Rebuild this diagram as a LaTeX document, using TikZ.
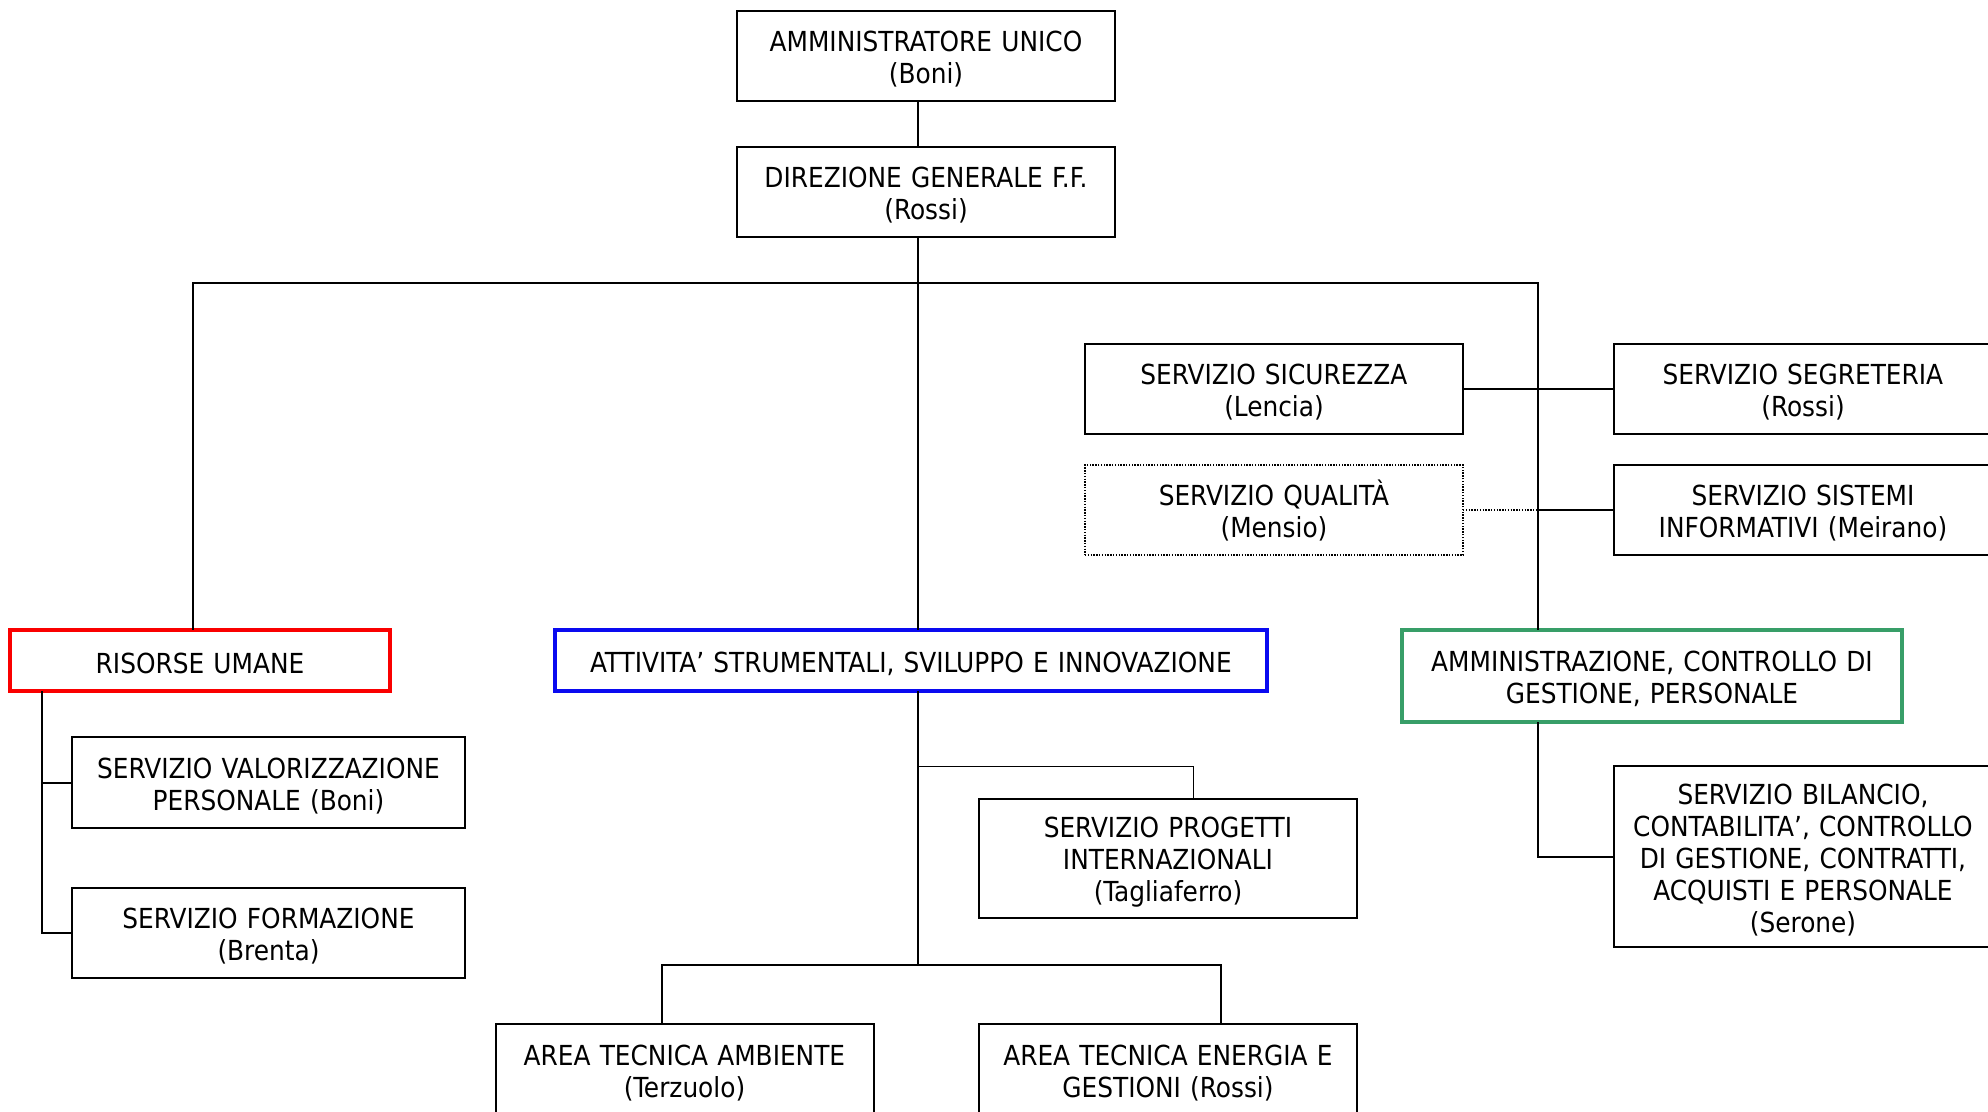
\documentclass[tikz,border=0pt]{standalone}
\usepackage{fontspec}
\setmainfont{DejaVu Sans Condensed}
\definecolor{rured}{RGB}{250,0,0}
\definecolor{atblue}{RGB}{10,10,240}
\definecolor{amgreen}{RGB}{56,158,104}
\begin{document}
\begin{tikzpicture}[x=0.5pt,y=-0.5pt,
   font=\fontsize{13.8}{16}\selectfont,
   box/.style={draw,line width=1pt,align=center,text width=180pt,inner sep=0pt,outer sep=0pt,minimum width=189pt,minimum height=45pt,
     execute at begin node={\rule{0pt}{13.5pt}}},
   areabox/.style={box,line width=2pt},
   link/.style={line width=1pt},
   thinlink/.style={line width=0.5pt},
   dotlink/.style={line width=0.7pt,dash pattern=on 0.7pt off 0.7pt}]
   \useasboundingbox (0,0) rectangle (1988,1112);
   \clip (0,0) rectangle (1988,1112);
   \node[box] (amm) at (926,56) {AMMINISTRATORE UNICO\\(Boni)};
   \node[box] (dir) at (926,192) {DIREZIONE GENERALE F.F.\\(Rossi)};
   \node[box] (sicur) at (1274,389) {SERVIZIO SICUREZZA\\(Lencia)};
   \node[box] (segr) at (1803,389) {SERVIZIO SEGRETERIA\\(Rossi)};
   \node[box,dotlink] (qual) at (1274,510) {SERVIZIO QUALITÀ\\(Mensio)};
   \node[box] (sist) at (1803,510) {SERVIZIO SISTEMI\\INFORMATIVI (Meirano)};
   \node[areabox,draw=rured,minimum width=190pt,minimum height=30.5pt] (rum) at (200,660.5) {RISORSE UMANE};
   \node[areabox,draw=atblue,text width=345pt,minimum width=356pt,minimum height=30.5pt] (att) at (911,660.5) {ATTIVITA’ STRUMENTALI, SVILUPPO E INNOVAZIONE};
   \node[areabox,draw=amgreen,text width=240pt,minimum width=250pt,minimum height=46pt] (amc) at (1652,676) {AMMINISTRAZIONE, CONTROLLO DI\\GESTIONE, PERSONALE};
   \node[box,text width=190pt,minimum width=196.5pt,minimum height=45.5pt] (valor) at (268.5,782.5) {SERVIZIO VALORIZZAZIONE\\PERSONALE (Boni)};
   \node[box,minimum width=196.5pt] (form) at (268.5,933) {SERVIZIO FORMAZIONE\\(Brenta)};
   \node[box,minimum height=59.5pt] (prog) at (1168,858.5) {SERVIZIO PROGETTI\\INTERNAZIONALI\\(Tagliaferro)};
   \node[box,minimum height=90.5pt] (bil) at (1803,856.5) {SERVIZIO BILANCIO,\\CONTABILITA’, CONTROLLO\\DI GESTIONE, CONTRATTI,\\ACQUISTI E PERSONALE\\(Serone)};
   \node[box,minimum height=45.5pt] (amb) at (684.5,1069.5) {AREA TECNICA AMBIENTE\\(Terzuolo)};
   \node[box,minimum height=45.5pt] (ene) at (1168,1069.5) {AREA TECNICA ENERGIA E\\GESTIONI (Rossi)};

   \coordinate (trunk) at (918,283);
   \coordinate (busL) at (193,283);
   \coordinate (busR) at (1538,283);
   \coordinate (rumx) at (42,700);
   \coordinate (split) at (918,965);
   \coordinate (ambx) at (662,965);
   \coordinate (enex) at (1221,965);
   \coordinate (progx) at (1193,766);

   \draw[link] (amm.south -| trunk) -- (dir.north -| trunk);
   \draw[link] (dir.south -| trunk) -- (att.north -| trunk);
   \draw[link] (rum.north -| busL) -- (busL) -- (busR) -- (amc.north -| busR);
   \draw[link] (sicur) -- (segr);
   \draw[dotlink] (qual.east) -- (qual.east -| busR);
   \draw[link] (qual.east -| busR) -- (sist.west);
   \draw[link] (rum.south -| rumx) |- (form.west);
   \draw[link] (valor.west) -- (valor.west -| rumx);
   \draw[link] (att.south -| split) -- (split);
   \draw[link] (amb.north -| ambx) -- (ambx) -- (enex) -- (ene.north -| enex);
   \draw[thinlink] (progx -| trunk) -- (progx) -- (prog.north -| progx);
   \draw[link] (amc.south -| busR) |- (bil.west);
\end{tikzpicture}
\end{document}
